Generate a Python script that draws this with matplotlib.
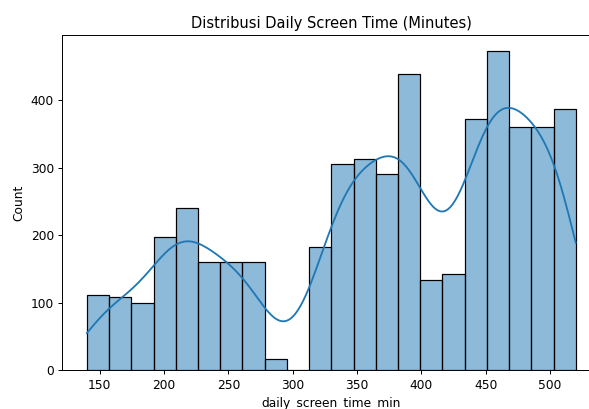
import numpy as np
import pandas as pd
import matplotlib
matplotlib.use('Agg')
import matplotlib.pyplot as plt
import seaborn as sns

# histogram of daily screen time, 22 bins from 140 to 520 minutes
lo, hi, n_bins = 140, 520, 22
counts = [111, 108, 100, 197, 240, 160, 160, 160, 17, 0, 182,
          305, 313, 291, 439, 134, 142, 372, 473, 360, 360, 387]

edges = np.linspace(lo, hi, n_bins + 1)
centers = (edges[:-1] + edges[1:]) / 2
df = pd.DataFrame({'daily_screen_time_min': centers, 'n': counts})

dpi = 88
fig = plt.figure(figsize=(589 / dpi, 409 / dpi), dpi=dpi)
ax = fig.add_axes([0.106, 0.095, 0.913, 0.819])

# weighted rows give a small effective n, so shrink the kde bandwidth
sns.histplot(data=df, x='daily_screen_time_min', weights='n',
             bins=list(edges), kde=True,
             kde_kws={'clip': (lo, hi), 'cut': 3, 'bw_adjust': 0.32}, ax=ax)

ax.set_title('Distribusi Daily Screen Time (Minutes)')
ax.set_xlabel('daily_screen_time_min')
ax.set_ylabel('Count')

plt.savefig('out.png', dpi=dpi)
plt.close()
